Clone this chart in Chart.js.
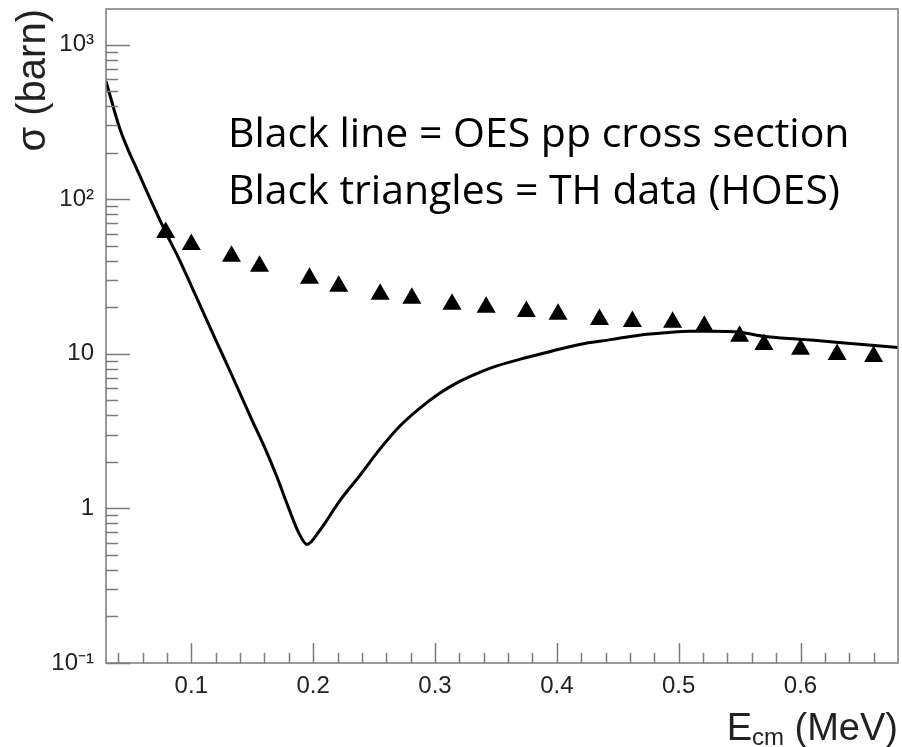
<!DOCTYPE html>
<html>
<head>
<meta charset="utf-8">
<script src="https://cdn.jsdelivr.net/npm/chart.js@4"></script>
<style>
  html, body { margin: 0; padding: 0; background: #fff; }
  #wrap { width: 902px; height: 747px; position: relative; }
</style>
</head>
<body>
<div id="wrap"><canvas id="c"></canvas></div>
<script>
// OES pp cross section (line) vs TH data (triangles), log scale

const curveE = [0.030, 0.0415, 0.0579, 0.079, 0.090, 0.100, 0.110, 0.120, 0.130, 0.140, 0.150, 0.160, 0.170, 0.180, 0.188, 0.195, 0.2054, 0.2218, 0.2382, 0.2546, 0.271, 0.2874, 0.3038, 0.3202, 0.3366, 0.3472, 0.3693, 0.3915, 0.4185, 0.4456, 0.4677, 0.490, 0.509, 0.527, 0.550, 0.569, 0.601, 0.629, 0.680];
const curveSigma = [580, 284, 141, 61, 41, 27.5, 18.4, 12.3, 8.3, 5.55, 3.7, 2.5, 1.62, 1.0, 0.7, 0.585, 0.72, 1.12, 1.63, 2.41, 3.40, 4.44, 5.55, 6.63, 7.59, 8.18, 9.2, 10.2, 11.5, 12.4, 13.2, 13.7, 14.0, 14.0, 13.8, 13.0, 12.4, 11.9, 11.0];

const triE = [0.079, 0.100, 0.133, 0.156, 0.197, 0.221, 0.255, 0.281, 0.314, 0.342, 0.375, 0.401, 0.435, 0.462, 0.495, 0.521, 0.550, 0.570, 0.600, 0.630, 0.660];
const triSigma = [61, 51, 42.8, 36.8, 30.8, 27.4, 24.3, 22.9, 20.9, 20.0, 18.8, 18.0, 16.7, 16.2, 16.0, 15.1, 13.0, 11.5, 10.7, 9.9, 9.6];

const xTicks = [0.1, 0.2, 0.3, 0.4, 0.5, 0.6];
const xTickLabels = ['0.1', '0.2', '0.3', '0.4', '0.5', '0.6'];
const yTicks = [0.1, 1, 10, 100, 1000];
const yTickLabels = ['10\u207B\u00B9', '1', '10', '10\u00B2', '10\u00B3'];

const noteLines = ['Black line = OES pp cross section', 'Black triangles = TH data (HOES)'];

const axisGrey = '#7a7a7a';
const labelFont = "'Liberation Sans', Arial, sans-serif";

// ROOT-like frame with ticks pointing inward, plus notes and the x title
const rootFrame = {
  id: 'rootFrame',
  afterDraw(chart) {
    const { ctx, chartArea: a, scales } = chart;
    const xs = scales.x, ys = scales.y;
    ctx.save();
    ctx.strokeStyle = axisGrey;
    ctx.lineWidth = 1.5;
    ctx.strokeRect(a.left, a.top, a.right - a.left, a.bottom - a.top);

    // y ticks: decades long, 2..9 short
    ctx.beginPath();
    for (let d = 0.1; d <= 1000; d *= 10) {
      for (let m = 1; m <= 9; m++) {
        const v = d * m;
        if (v < ys.min || v > ys.max) continue;
        const y = Math.round(ys.getPixelForValue(v)) + 0.5;
        ctx.moveTo(a.left, y);
        ctx.lineTo(a.left + (m === 1 ? 24 : 12), y);
      }
    }
    // x ticks: every 0.02, long every 0.1
    for (let k = 2; k <= 33; k++) {
      const v = k * 0.02;
      if (v < xs.min || v > xs.max) continue;
      const x = Math.round(xs.getPixelForValue(v)) + 0.5;
      ctx.moveTo(x, a.bottom);
      ctx.lineTo(x, a.bottom - (k % 5 === 0 ? 20 : 10));
    }
    ctx.stroke();

    // notes
    ctx.fillStyle = '#000';
    ctx.textBaseline = 'alphabetic';
    ctx.textAlign = 'left';
    ctx.font = "41px 'Open Sans', sans-serif";
    ctx.fillText(noteLines[0], 228, 147);
    ctx.fillText(noteLines[1], 228, 204);

    // x title with subscript
    const big = '38px ' + labelFont, small = '24px ' + labelFont;
    ctx.fillStyle = '#222';
    ctx.font = big; const wE = ctx.measureText('E').width;
    const wRest = ctx.measureText(' (MeV)').width;
    ctx.font = small; const wSub = ctx.measureText('cm').width;
    let x = a.right - (wE + wSub + wRest);
    const base = 740;
    ctx.font = big; ctx.fillText('E', x, base); x += wE;
    ctx.font = small; ctx.fillText('cm', x, base + 5); x += wSub;
    ctx.font = big; ctx.fillText(' (MeV)', x, base);
    ctx.restore();
  }
};

new Chart(document.getElementById('c'), {
  type: 'line',
  data: {
    datasets: [
      {
        label: 'OES',
        data: curveE.map((e, i) => ({ x: e, y: curveSigma[i] })),
        borderColor: '#000',
        borderWidth: 3,
        pointRadius: 0,
        cubicInterpolationMode: 'monotone',
        fill: false,
      },
      {
        label: 'TH',
        data: triE.map((e, i) => ({ x: e, y: triSigma[i] })),
        showLine: false,
        pointStyle: 'triangle',
        pointRadius: 11,
        backgroundColor: '#000',
        borderColor: '#000',
        borderWidth: 0,
      }
    ]
  },
  options: {
    responsive: true,
    maintainAspectRatio: false,
    animation: false,
    layout: { autoPadding: false, padding: { top: 9, right: 4, left: 0, bottom: 0 } },
    plugins: { legend: { display: false }, tooltip: { enabled: false } },
    scales: {
      x: {
        type: 'linear',
        min: 0.03,
        max: 0.68,
        grid: { display: false, drawTicks: false },
        border: { display: false },
        afterBuildTicks: s => { s.ticks = xTicks.map(v => ({ value: v })); },
        afterFit: s => { s.height = 84; s.paddingLeft = 0; s.paddingRight = 0; },
        ticks: {
          padding: 9,
          color: '#222',
          font: { family: labelFont, size: 24 },
          maxRotation: 0,
          callback: v => xTickLabels[xTicks.findIndex(t => Math.abs(t - v) < 1e-9)] ?? ''
        }
      },
      y: {
        type: 'logarithmic',
        min: 0.1,
        max: 1700,
        grid: { display: false, drawTicks: false },
        border: { display: false },
        afterBuildTicks: s => { s.ticks = yTicks.map(v => ({ value: v })); },
        afterFit: s => { s.width = 106; s.paddingTop = 0; s.paddingBottom = 0; },
        title: {
          display: true,
          text: '\u03C3 (barn)',
          align: 'end',
          color: '#222',
          font: { family: labelFont, size: 40 },
          padding: { top: 10, bottom: 0 }
        },
        ticks: {
          padding: 12,
          color: '#222',
          font: { family: labelFont, size: 24 },
          callback: v => yTickLabels[yTicks.findIndex(t => Math.abs(t - v) / t < 1e-6)] ?? ''
        }
      }
    }
  },
  plugins: [rootFrame]
});
</script>
</body>
</html>
